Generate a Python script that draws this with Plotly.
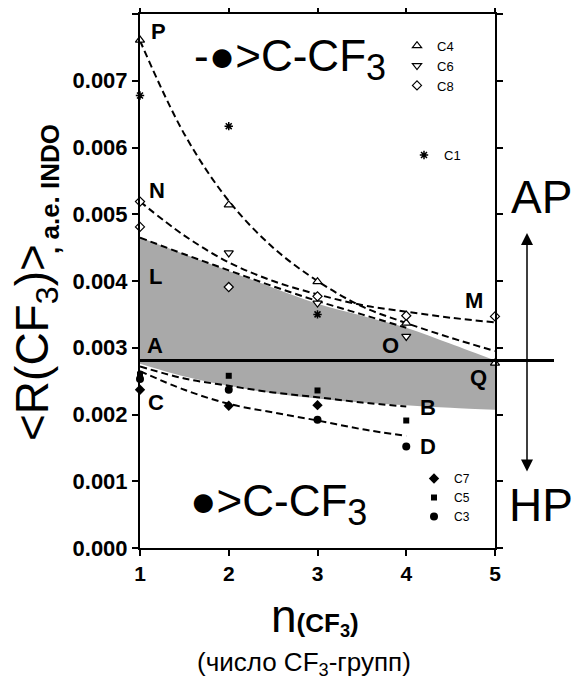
import plotly.graph_objects as go

# ---------------- data ----------------
x_c4 = [1, 2, 3, 4, 5]
y_c4 = [0.00761, 0.00514, 0.00399, 0.00337, 0.00277]
x_c6 = [2, 3, 4]
y_c6 = [0.00442, 0.00367, 0.00317]
x_c8 = [1, 1, 2, 3, 4, 5]
y_c8 = [0.00519, 0.00481, 0.00391, 0.00377, 0.00348, 0.00347]
x_c1 = [1, 2, 3]
y_c1 = [0.00678, 0.00632, 0.00350]
x_c7 = [1, 2, 3]
y_c7 = [0.00237, 0.00213, 0.00214]
x_c5 = [1, 2, 3, 4]
y_c5 = [0.00260, 0.00258, 0.00236, 0.00191]
x_c3 = [1, 2, 3, 4]
y_c3 = [0.00253, 0.00237, 0.00192, 0.00152]

fit_x = [1, 1.5, 2, 2.5, 3, 3.5, 4, 4.5, 5]
fit_P = [0.00760, 0.00620, 0.00520, 0.00450, 0.00400, 0.00362, 0.00337, 0.00315, 0.00295]
fit_N = [0.00519, 0.00468, 0.00428, 0.00400, 0.00380, 0.00364, 0.00354, 0.00345, 0.00338]
fit_x4 = [1, 1.5, 2, 2.5, 3, 3.5, 4]
fit_L = [0.00465, 0.00440, 0.00416, 0.00392, 0.00370, 0.00350, 0.00330]
fit_B = [0.00272, 0.00254, 0.00243, 0.00233, 0.00226, 0.00218, 0.00212]
fit_D = [0.00265, 0.00237, 0.00216, 0.00203, 0.00191, 0.00178, 0.00168]

band_x = [1, 1.5, 2, 2.5, 3, 3.5, 4, 4.5, 5]
band_upper = [0.00465, 0.00440, 0.00415, 0.00390, 0.00366, 0.00348, 0.00330, 0.00306, 0.00281]
band_lower = [0.00276, 0.00257, 0.00243, 0.00232, 0.00224, 0.00218, 0.00214, 0.00210, 0.00207]

h_level = 0.00281

x_ticks = [1, 2, 3, 4, 5]
y_ticks = [0.000, 0.001, 0.002, 0.003, 0.004, 0.005, 0.006, 0.007, 0.008]

# ---------------- layout helpers ----------------
# the page body has an 8px margin, so the figure is drawn 8px in from the top-left
OFF = 8
PAGE_W, PAGE_H = 585, 678
W, H = PAGE_W - OFF, PAGE_H - OFF
PL, PR, PT, PB = 140, 495, 14, 548          # plot area in page pixels
ML, MR, MT, MB = PL - OFF, W - (PR - OFF), PT - OFF, H - (PB - OFF)
PW, PH = PR - PL, PB - PT


def px(xp, yp):
    return (xp - PL) / PW, (PB - yp) / PH


FONT = "Arial, Liberation Sans, sans-serif"

fig = go.Figure()

# grey band
fig.add_trace(go.Scatter(x=band_x, y=band_lower, mode="lines", line=dict(width=0, shape="spline"),
                         showlegend=False, hoverinfo="skip"))
fig.add_trace(go.Scatter(x=band_x, y=band_upper, mode="lines", line=dict(width=0, shape="spline"),
                         fill="tonexty", fillcolor="#a9a9a9", showlegend=False, hoverinfo="skip"))

dash = dict(color="black", width=2, dash="7px,4px", shape="spline")
for fx, fy in [(fit_x, fit_P), (fit_x, fit_N), (fit_x4, fit_L), (fit_x4, fit_B), (fit_x4, fit_D)]:
    fig.add_trace(go.Scatter(x=fx, y=fy, mode="lines", line=dash, showlegend=False, hoverinfo="skip"))

openm = dict(color="white", line=dict(color="black", width=1.2))
series = [
    ("C4", x_c4, y_c4, dict(symbol="triangle-up", size=8, **openm), "legend"),
    ("C6", x_c6, y_c6, dict(symbol="triangle-down", size=8, **openm), "legend"),
    ("C8", x_c8, y_c8, dict(symbol="diamond", size=7, **openm), "legend"),
    ("C1", x_c1, y_c1, dict(symbol="asterisk-open", size=7, color="black",
                            line=dict(color="black", width=1.5)), "legend2"),
    ("C7", x_c7, y_c7, dict(symbol="diamond", size=8, color="black"), "legend3"),
    ("C5", x_c5, y_c5, dict(symbol="square", size=6, color="black"), "legend3"),
    ("C3", x_c3, y_c3, dict(symbol="circle", size=8, color="black"), "legend3"),
]
for name, sx, sy, mk, lg in series:
    fig.add_trace(go.Scatter(x=sx, y=sy, mode="markers", name=name, marker=mk, legend=lg,
                             cliponaxis=False))

# horizontal reference line, extending past the right axis
fig.add_shape(type="line", xref="paper", yref="y", x0=0, x1=px(554, 0)[0], y0=h_level, y1=h_level,
              line=dict(color="black", width=3), layer="above")

ann = []


def txt(text, xp, yp, size, bold=False, **kw):
    x, y = px(xp, yp)
    ann.append(dict(text=text, x=x, y=y, xref="paper", yref="paper", showarrow=False,
                    xanchor=kw.pop("xanchor", "center"), yanchor=kw.pop("yanchor", "middle"),
                    font=dict(family=FONT, size=size, color="black", weight="bold" if bold else "normal"),
                    **kw))


for lab, xp, yp in [("P", 158, 32), ("N", 157, 190), ("L", 155, 276), ("A", 155, 345), ("C", 156, 402),
                    ("O", 390, 345), ("M", 474, 300), ("Q", 478, 377), ("B", 428, 407), ("D", 428, 446)]:
    txt(lab, xp, yp, 22, bold=True)

txt("-●&gt;C-CF<sub><span style='font-size:36px'>3</span></sub>", 290, 60, 44)
txt("●&gt;C-CF<sub><span style='font-size:36px'>3</span></sub>", 278, 504, 44)
txt("AP", 541, 197, 46)
txt("HP", 541, 505, 46)

# axis titles
txt("&lt;R(CF<sub>3</sub>)&gt;", 35, 343, 46, textangle=-90)
txt(", a.e. INDO", 50, 189, 26, bold=True, textangle=-90)
txt("n<span style='font-size:26px'><b>(CF<sub>3</sub>)</b></span>", 315, 616, 46)
txt("(число CF<sub>3</sub>-групп)", 304, 663, 26)

# double-headed arrow
ax1, ay1 = px(527, 233)
ann.append(dict(x=ax1, y=ay1, ax=0, ay=240, xref="paper", yref="paper", axref="pixel", ayref="pixel",
                showarrow=True, arrowhead=2, arrowsize=1.6, arrowwidth=1.5, arrowside="end+start",
                arrowcolor="black", text=""))

lgfont = dict(family=FONT, size=13, color="black")
lx1, ly1 = px(397, 30.7)
lx2, ly2 = px(404, 140)
lx3, ly3 = px(414, 464)
common = dict(xanchor="left", yanchor="top", bgcolor="rgba(0,0,0,0)", itemsizing="trace",
              borderwidth=0, traceorder="normal")
fig.update_layout(
    width=W, height=H, margin=dict(l=ML, r=MR, t=MT, b=MB, autoexpand=False),
    paper_bgcolor="white", plot_bgcolor="white",
    font=dict(family=FONT, color="black"),
    annotations=ann,
    showlegend=True,
    legend=dict(x=lx1, y=ly1, font=lgfont, **common),
    legend2=dict(x=lx2, y=ly2, font=lgfont, **common),
    legend3=dict(x=lx3, y=ly3, font=dict(family=FONT, size=12, color="black"), **common),
    xaxis=dict(range=[1, 5], tickvals=x_ticks, ticktext=[str(v) for v in x_ticks], automargin=False,
               showline=True, linecolor="black", linewidth=2, mirror="ticks", ticks="outside",
               ticklen=6, tickwidth=1.5, tickcolor="black", showgrid=False, zeroline=False,
               tickfont=dict(family=FONT, size=21, weight="bold")),
    yaxis=dict(range=[0, 0.008], tickvals=y_ticks, tickformat=".3f", automargin=False,
               showline=True, linecolor="black", linewidth=2, mirror="ticks", ticks="outside",
               ticklen=6, tickwidth=1.5, tickcolor="black", showgrid=False, zeroline=False,
               tickfont=dict(family=FONT, size=22, weight="bold")),
)

fig.write_html("out.html")
